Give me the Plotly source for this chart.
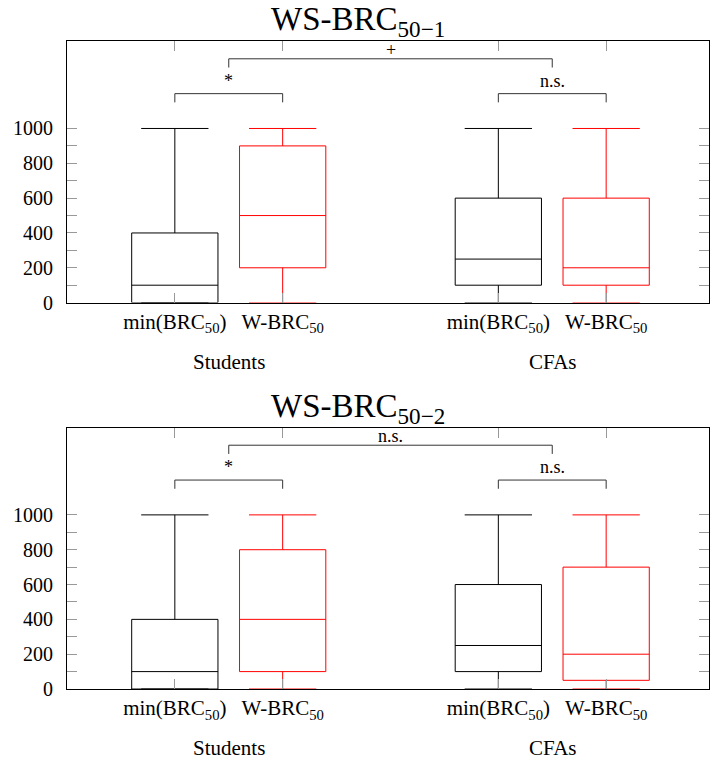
import plotly.graph_objects as go

# ---------------- data ----------------
groups = ["Students", "CFAs"]
measures = ["min(BRC<sub>50</sub>)", "W-BRC<sub>50</sub>"]
panel_titles = ["WS-BRC<sub>50−1</sub>", "WS-BRC<sub>50−2</sub>"]

# order: Students-min, Students-W, CFAs-min, CFAs-W
ws1_lower = [0, 0, 0, 0]
ws1_q1 = [0, 200, 100, 100]
ws1_median = [100, 500, 250, 200]
ws1_q3 = [400, 900, 600, 600]
ws1_upper = [1000, 1000, 1000, 1000]

ws2_lower = [0, 0, 0, 0]
ws2_q1 = [0, 100, 100, 50]
ws2_median = [100, 400, 250, 200]
ws2_q3 = [400, 800, 600, 700]
ws2_upper = [1000, 1000, 1000, 1000]

# significance: [within Students, within CFAs, between groups]
ws1_sig = ["*", "n.s.", "+"]
ws2_sig = ["*", "n.s.", "n.s."]

y_tick_values = [0, 100, 200, 300, 400, 500, 600, 700, 800, 900, 1000]
y_tick_labels = ["0", "", "200", "", "400", "", "600", "", "800", "", "1000"]

# ---------------- layout constants ----------------
W, H = 710, 771
L = 67                       # left plot edge in pixels
UNIT = 108.0                 # pixels per x unit
colors = ["black", "red"]
FONT = "'Liberation Serif', 'Times New Roman', serif"


def py(px):
    return 1 - px / H


def pxx(px):
    return (px - L) / (W - L)


panels = [
    dict(lower=ws1_lower, q1=ws1_q1, med=ws1_median, q3=ws1_q3, up=ws1_upper,
         sig=ws1_sig, title=panel_titles[0], top=42, bot=307),
    dict(lower=ws2_lower, q1=ws2_q1, med=ws2_median, q3=ws2_q3, up=ws2_upper,
         sig=ws2_sig, title=panel_titles[1], top=434, bot=699),
]

fig = go.Figure()


def pos(g, m):
    return g * 3 + m + 1


positions = [pos(g, m) for g in range(len(groups)) for m in range(len(measures))]
xmax = (W - L) / UNIT

for p_i, P in enumerate(panels):
    xa = "x" if p_i == 0 else "x2"
    ya = "y" if p_i == 0 else "y2"
    for k, xpos in enumerate(positions):
        m = k % 2
        fig.add_trace(go.Box(
            x=[xpos], q1=[P["q1"][k]], median=[P["med"][k]], q3=[P["q3"][k]],
            lowerfence=[P["lower"][k]], upperfence=[P["up"][k]],
            width=0.8, whiskerwidth=0.78,
            fillcolor="rgba(0,0,0,0)",
            line=dict(color=colors[m], width=1),
            boxpoints=False, showlegend=False, hoverinfo="skip",
            xaxis=xa, yaxis=ya,
        ))

    # brackets
    within_lv, between_lv, leg = 1200, 1400, 50
    brackets = []
    for g in range(len(groups)):
        brackets.append((pos(g, 0), pos(g, 1), within_lv, P["sig"][g], 1))
    gc = [(pos(g, 0) + pos(g, 1)) / 2 for g in range(len(groups))]
    brackets.append((gc[0], gc[1], between_lv, P["sig"][2], -3))
    for x0, x1, lv, txt, ys in brackets:
        fig.add_shape(type="path",
                      path=f"M {x0} {lv - leg} L {x0} {lv} L {x1} {lv} L {x1} {lv - leg}",
                      xref=xa, yref=ya, line=dict(color="#333", width=1))
        fig.add_annotation(x=(x0 + x1) / 2, y=lv, xref=xa, yref=ya, text=txt,
                           showarrow=False, yanchor="bottom", yshift=ys,
                           font=dict(family=FONT, size=18, color="black"))

    # group labels
    for g, name in enumerate(groups):
        fig.add_annotation(x=gc[g], y=0, xref=xa, yref=ya, text=name,
                           showarrow=False, yanchor="middle", yshift=-59,
                           font=dict(family=FONT, size=21, color="black"))

    # title
    fig.add_annotation(x=pxx(358), y=py(P["top"] + 3),
                       xref="paper", yref="paper", text=P["title"],
                       showarrow=False, yanchor="bottom",
                       font=dict(family=FONT, size=33, color="black"))

axis_common = dict(showline=True, linecolor="black", linewidth=1, mirror="ticks",
                   ticks="inside", ticklen=10, tickcolor="#999", tickwidth=1,
                   showgrid=False, zeroline=False)

lay = dict(width=W, height=H, margin=dict(l=L, r=0, t=0, b=0),
           plot_bgcolor="white", paper_bgcolor="white", showlegend=False,
           font=dict(family=FONT, color="black", size=20))
for p_i, P in enumerate(panels):
    sx = "" if p_i == 0 else "2"
    lay["xaxis" + sx] = dict(axis_common, range=[0, xmax], domain=[0, 1],
                             tickvals=positions,
                             ticktext=[measures[k % 2] for k in range(len(positions))],
                             anchor="y" + sx, ticklabelstandoff=0,
                             tickfont=dict(family=FONT, size=21, color="black"))
    lay["yaxis" + sx] = dict(axis_common, range=[0, 1500],
                             domain=[py(P["bot"]), py(P["top"])],
                             tickvals=y_tick_values, ticktext=y_tick_labels,
                             anchor="x" + sx, ticklabelstandoff=9,
                             tickfont=dict(family=FONT, size=20, color="black"))
fig.update_layout(**lay)

fig.write_html(
    "out.html",
    config={"displayModeBar": False},
    post_script="document.body.style.margin='0';"
                "document.documentElement.style.overflow='hidden';",
)
